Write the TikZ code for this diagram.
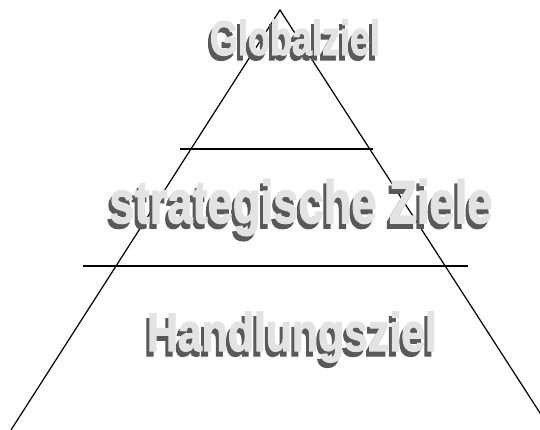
\documentclass[tikz,border=0pt]{standalone}
\usepackage{fontspec}
\setmainfont{Liberation Sans}
\newfontfamily\heavyfont[FakeBold=2.5]{Liberation Sans Bold}
\usetikzlibrary{positioning}

\begin{document}
\begin{tikzpicture}[
  x=1pt, y=-1pt,
  line/.style={draw=black, line width=1.2pt},
  wfont/.style={font=\fontsize{#1}{#1}\selectfont\heavyfont},
  wshadow/.style={text=gray!70!black, anchor=base, inner sep=0pt},
  wface/.style={text=gray!22, anchor=base, inner sep=0pt},
]
\useasboundingbox (0,0) rectangle (540,430);
\clip (0,0) rectangle (540,430);

%% Pyramid outline
\coordinate (apex)  at (280,10);
\coordinate (baseL) at (11,430);
\coordinate (baseR) at (551,430);
\draw[line] (baseL) -- (apex) -- (baseR);

%% Level borders
\coordinate (upL) at (180,149);
\coordinate (upR) at (373,149);
\coordinate (loL) at (83,266);
\coordinate (loR) at (468,266);
\draw[line] (upL) -- (upR);
\draw[line] (loL) -- (loR);

%% Level 1: Globalziel
\node[wshadow, wfont=45] (globS) at (292,60) {\scalebox{0.8}[1.08]{Globalziel}};
\node[wface, wfont=45] (glob) at ([xshift=3pt, yshift=5pt]globS.base) {\scalebox{0.8}[1.08]{Globalziel}};

%% Level 2: strategische Ziele
\node[wshadow, wfont=56] (stratS) at (298,228) {\scalebox{0.81}[1.08]{strategische Ziele}};
\node[wface, wfont=56] (strat) at ([xshift=3pt, yshift=5pt]stratS.base) {\scalebox{0.81}[1.08]{strategische Ziele}};

%% Level 3: Handlungsziel
\node[wshadow, wfont=50] (handS) at (289,356) {\scalebox{0.855}[1.08]{Handlungsziel}};
\node[wface, wfont=50] (hand) at ([xshift=3pt, yshift=5pt]handS.base) {\scalebox{0.855}[1.08]{Handlungsziel}};

\end{tikzpicture}
\end{document}
